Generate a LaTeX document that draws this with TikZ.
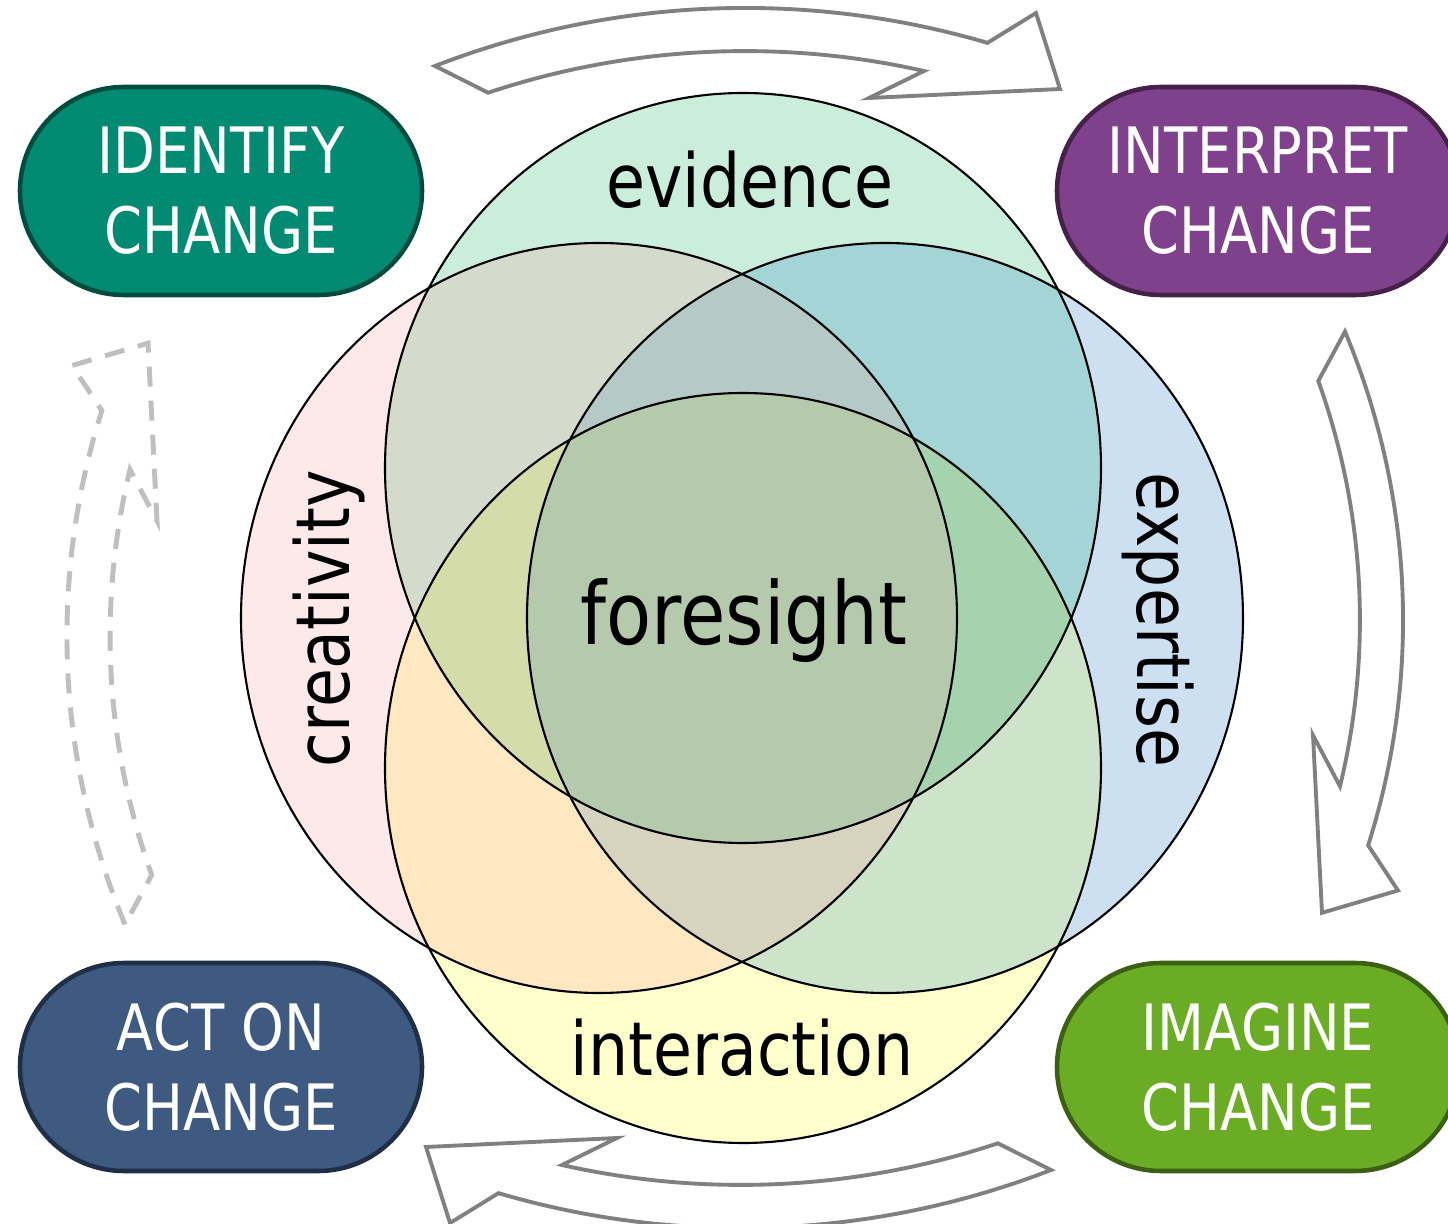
\documentclass[tikz,border=0pt]{standalone}
\usepackage{fontspec}
\setmainfont{DejaVu Sans}[FakeStretch=0.85]
\usepackage{tikz}

\definecolor{evid}{HTML}{CBEEDC}
\definecolor{creat}{HTML}{FDE9E9}
\definecolor{expert}{HTML}{CCE0F1}
\definecolor{inter}{HTML}{FFFFCC}
\definecolor{evcr}{HTML}{D5DBCC}
\definecolor{evex}{HTML}{A3D5D6}
\definecolor{incr}{HTML}{FEE8C2}
\definecolor{inex}{HTML}{CDE3CA}
\definecolor{evcrex}{HTML}{B5CAC6}
\definecolor{increx}{HTML}{D6D3BF}
\definecolor{evcrin}{HTML}{D4DCAA}
\definecolor{evexin}{HTML}{A4D3AE}
\definecolor{fore}{HTML}{B5C9AD}

\definecolor{identfill}{HTML}{028B72}
\definecolor{identrim}{HTML}{004C3F}
\definecolor{interpfill}{HTML}{80418C}
\definecolor{interprim}{HTML}{45214A}
\definecolor{actfill}{HTML}{3E5A80}
\definecolor{actrim}{HTML}{1F2F47}
\definecolor{imagfill}{HTML}{6AAD24}
\definecolor{imagrim}{HTML}{3B6014}

\newcommand{\evidpath}{(7.43,7.55) ellipse (3.58 and 3.75)}
\newcommand{\creatpath}{(5.99,6.05) ellipse (3.58 and 3.75)}
\newcommand{\expertpath}{(8.85,6.05) ellipse (3.58 and 3.75)}
\newcommand{\interpath}{(7.43,4.55) ellipse (3.58 and 3.75)}
\newcommand{\cyclepath}{(-3.08,5.52) arc[start angle=111.2, end angle=73.6, radius=8.58]
  -- (2.93,6.05) -- (3.17,5.29) -- (1.26,5.20) -- (1.81,5.47)
  arc[start angle=77.3, end angle=108.4, radius=8.14] -- cycle}

\tikzset{
  phase/.style={rectangle, rounded corners=1.04cm, minimum width=4.02cm,
    minimum height=2.08cm, line width=1.3pt, text=white, align=center,
    font=\fontsize{18.2}{22.8}\selectfont},
  lbl/.style={font=\fontsize{21.2}{25}\selectfont},
  rim/.style={line width=0.6pt},
  cyclearrow/.style={draw=gray, fill=white, line width=1.1pt, line join=miter},
  backarrow/.style={draw=gray!50, line width=1.4pt, dash pattern=on 5.7pt off 4pt}
}

\begin{document}
\begin{tikzpicture}
    \useasboundingbox (0,0) rectangle (14.48,12.23);
    \fill[white] (0,0) rectangle (14.48,12.23);

    % the four fields
    \fill[evid] \evidpath;
    \fill[creat] \creatpath;
    \fill[expert] \expertpath;
    \fill[inter] \interpath;
    \begin{scope}
        \clip \evidpath;
        \fill[evcr] \creatpath;
        \fill[evex] \expertpath;
    \end{scope}
    \begin{scope}
        \clip \interpath;
        \fill[incr] \creatpath;
        \fill[inex] \expertpath;
    \end{scope}
    \begin{scope}
        \clip \creatpath;
        \clip \expertpath;
        \fill[evcrex] \evidpath;
        \fill[increx] \interpath;
    \end{scope}
    \begin{scope}
        \clip \evidpath;
        \clip \interpath;
        \fill[evcrin] \creatpath;
        \fill[evexin] \expertpath;
    \end{scope}
    \begin{scope}
        \clip \evidpath;
        \clip \interpath;
        \clip \creatpath;
        \fill[fore] \expertpath;
    \end{scope}
    \draw[rim] \evidpath;
    \draw[rim] \creatpath;
    \draw[rim] \expertpath;
    \draw[rim] \interpath;

    \node[lbl, anchor=base] (evidence) at (7.50,10.15) {evidence};
    \node[lbl, anchor=base] (interaction) at (7.42,1.47) {interaction};
    \node[lbl, anchor=base, rotate=90] (creativity) at (3.49,6.04) {creativity};
    \node[lbl, anchor=base, rotate=-90] (expertise) at (11.37,6.03) {expertise};
    \node[anchor=base, font=\fontsize{24.7}{28}\selectfont] (foresight) at (7.44,5.78) {foresight};

    % cycle arrows
    \draw[cyclearrow, shift={(7.43,6.05)}] \cyclepath;
    \draw[cyclearrow, shift={(7.93,6.05)}, rotate=-90, xscale=0.93] \cyclepath;
    \draw[cyclearrow, shift={(7.43,6.05)}, rotate=180] \cyclepath;
    \draw[backarrow, shift={(6.77,5.85)}, rotate=90, xscale=0.93] \cyclepath;

    % phases
    \node[phase, fill=identfill, draw=identrim] (identify) at (2.21,10.32) {IDENTIFY\\CHANGE};
    \node[phase, fill=interpfill, draw=interprim] (interpret) at (12.58,10.32) {INTERPRET\\CHANGE};
    \node[phase, fill=imagfill, draw=imagrim] (imagine) at (12.58,1.56) {IMAGINE\\CHANGE};
    \node[phase, fill=actfill, draw=actrim] (act) at (2.21,1.56) {ACT ON\\CHANGE};
\end{tikzpicture}
\end{document}
